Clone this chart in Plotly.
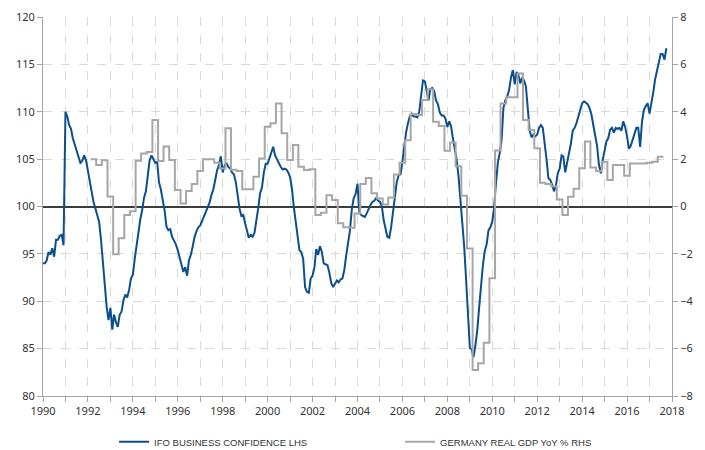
import pandas as pd
import plotly.graph_objects as go

# IFO business confidence, monthly, Jan 1990 - Oct 2017 (left axis)
ifo_1990s = [
    94.0, 94.0, 94.3, 95.2, 94.9, 95.6, 94.7, 96.5, 96.5, 96.9, 97.0, 95.9,   # 1990
    110.0, 109.5, 108.6, 108.2, 107.2, 106.6, 106.0, 105.2, 104.6, 104.8, 105.4, 104.9,  # 1991
    103.6, 102.7, 101.6, 100.5, 99.8, 99.3, 98.4, 96.5, 94.0, 92.2, 89.4, 88.0,  # 1992
    89.3, 87.0, 88.6, 87.8, 87.3, 88.6, 88.9, 90.1, 90.7, 90.4, 91.2, 92.4,   # 1993
    92.8, 94.5, 95.9, 97.2, 98.6, 99.6, 100.9, 101.6, 103.3, 104.9, 105.4, 105.0,  # 1994
    104.6, 104.7, 102.6, 101.8, 100.6, 99.6, 97.9, 97.5, 97.6, 96.8, 96.4, 96.0,  # 1995
    95.4, 94.5, 93.9, 93.1, 93.6, 92.7, 94.3, 94.9, 95.8, 96.8, 97.4, 97.8,   # 1996
    98.0, 98.5, 99.0, 99.5, 99.9, 100.4, 101.2, 101.8, 102.8, 103.8, 104.4, 105.3,  # 1997
    103.6, 104.3, 104.6, 104.2, 104.0, 103.6, 103.4, 102.6, 101.2, 99.8, 99.0, 99.1,  # 1998
    98.2, 97.3, 96.7, 97.0, 96.8, 97.2, 98.3, 99.8, 101.4, 102.0, 103.6, 104.5,  # 1999
]
ifo_2000s = [
    104.5, 105.1, 105.6, 106.3, 105.4, 105.0, 104.5, 104.2, 103.9, 104.0, 103.9, 103.6,  # 2000
    103.1, 101.8, 100.0, 98.4, 96.8, 95.4, 95.2, 94.5, 91.5, 91.0, 90.9, 92.4,  # 2001
    92.7, 93.6, 95.5, 94.9, 95.8, 95.2, 94.0, 93.9, 93.8, 93.0, 91.9, 91.5,   # 2002
    91.8, 92.2, 92.0, 92.3, 92.4, 93.3, 94.8, 96.3, 97.5, 99.7, 100.9, 101.3,  # 2003
    102.4, 99.4, 99.1, 99.0, 98.9, 99.3, 99.8, 100.2, 100.5, 100.6, 100.9, 100.6,  # 2004
    100.5, 100.0, 98.6, 97.5, 96.8, 96.7, 97.8, 99.4, 101.0, 102.6, 103.3, 103.4,  # 2005
    104.8, 106.5, 107.8, 108.8, 109.5, 109.8, 109.5, 109.5, 109.4, 110.0, 111.4, 113.3,  # 2006
    113.2, 111.9, 111.2, 112.4, 112.5, 112.2, 111.2, 110.8, 109.9, 109.6, 109.6, 109.3,  # 2007
    108.4, 109.0, 108.5, 107.2, 106.2, 104.9, 103.2, 100.6, 98.5, 95.8, 92.3, 88.0,  # 2008
    85.1, 84.9, 84.1, 85.3, 86.9, 89.3, 91.6, 93.8, 95.3, 96.0, 97.5, 97.8,   # 2009
]
ifo_2010s = [
    98.4, 100.0, 102.4, 104.6, 105.6, 107.0, 110.4, 111.2, 111.6, 112.3, 113.6, 114.4,  # 2010
    112.9, 114.2, 113.9, 113.0, 113.6, 113.3, 112.7, 110.0, 108.0, 107.3, 107.6, 107.4,  # 2011
    107.6, 108.3, 108.6, 108.3, 106.8, 105.0, 103.0, 102.8, 102.3, 101.6, 102.2, 103.5,  # 2012
    104.0, 105.4, 105.3, 103.6, 104.6, 105.6, 106.6, 108.0, 108.3, 108.8, 109.5, 110.0,  # 2013
    110.9, 111.1, 111.0, 110.8, 110.4, 109.7, 108.6, 107.6, 106.4, 104.4, 103.5, 104.9,  # 2014
    105.9, 106.9, 107.2, 108.1, 108.3, 107.8, 108.3, 108.2, 108.3, 108.0, 109.0, 108.4,  # 2015
    107.4, 106.1, 106.4, 107.0, 107.6, 108.3, 108.3, 106.3, 109.0, 110.2, 110.6, 110.9,  # 2016
    109.8, 110.8, 112.0, 113.4, 114.4, 115.5, 116.1, 116.1, 115.5, 116.7,              # 2017
]
ifo_values = ifo_1990s + ifo_2000s + ifo_2010s
ifo_start = "1990-01-01"

# Germany real GDP YoY %, quarterly, 1992Q1 - 2017Q2 (right axis)
gdp_years = list(range(1992, 2018))
gdp_quarterly = [
    [2.0, 1.75, 1.95, 0.42],     # 1992
    [-2.02, -1.34, -0.36, -0.2], # 1993
    [1.93, 2.24, 2.3, 3.65],     # 1994
    [1.92, 2.53, 1.96, 0.7],     # 1995
    [0.13, 0.65, 0.95, 1.5],     # 1996
    [2.0, 2.0, 1.85, 1.6],       # 1997
    [3.3, 1.55, 1.5, 0.73],      # 1998
    [0.73, 1.26, 2.03, 3.37],    # 1999
    [3.51, 4.35, 3.09, 1.96],    # 2000
    [2.6, 1.68, 1.54, 1.57],     # 2001
    [-0.36, -0.26, 0.48, 0.27],  # 2002
    [-0.71, -0.88, -0.9, -0.3],  # 2003
    [0.95, 1.2, 0.56, 0.34],     # 2004
    [0.08, 0.38, 1.35, 1.85],    # 2005
    [2.8, 3.9, 3.86, 4.5],       # 2006
    [4.95, 3.58, 3.4, 2.35],     # 2007
    [2.7, 1.7, 0.45, -1.77],     # 2008
    [-6.9, -6.62, -5.75, -3.03], # 2009
    [2.36, 4.35, 4.61, 4.61],    # 2010
    [5.62, 3.65, 3.23, 2.46],    # 2011
    [1.0, 0.95, 0.85, 0.3],      # 2012
    [-0.36, 0.41, 0.75, 1.61],   # 2013
    [2.74, 1.65, 1.5, 1.89],     # 2014
    [1.12, 1.75, 1.75, 1.3],     # 2015
    [1.82, 1.82, 1.82, 1.85],    # 2016
    [1.89, 2.1, 2.1],            # 2017
]
quarter_mid_month = [2, 5, 8, 11]

series_names = ["IFO BUSINESS CONFIDENCE LHS", "GERMANY REAL GDP YoY % RHS"]
x_tick_years = list(range(1990, 2019, 2))

# ---- build traces
ifo_dates = pd.date_range(ifo_start, periods=len(ifo_values), freq="MS")
gdp_dates, gdp_values = [], []
for yr, qs in zip(gdp_years, gdp_quarterly):
    for qi, v in enumerate(qs):
        gdp_dates.append(f"{yr}-{quarter_mid_month[qi]:02d}-15")
        gdp_values.append(v)

BLUE = "#0b4f8c"
GREY = "#a6a6a6"
GRID = "#d9d9d9"
AXIS = "#a6a6a6"
TXT = "#333333"
FONT = "Noto Sans, Open Sans, sans-serif"

fig = go.Figure()
fig.add_trace(go.Scatter(
    x=ifo_dates, y=ifo_values, name=series_names[0], mode="lines",
    line=dict(color=BLUE, width=2), yaxis="y"))
fig.add_trace(go.Scatter(
    x=gdp_dates, y=gdp_values, name=series_names[1], mode="lines",
    line=dict(color=GREY, width=2, shape="hv"), yaxis="y2"))

# page body has an 8px margin, so the figure is sized to fit the window
fig.update_layout(
    width=697, height=442,
    margin=dict(l=35, r=33, t=9, b=54, autoexpand=False),
    paper_bgcolor="white", plot_bgcolor="white",
    font=dict(family=FONT, size=11, color=TXT),
    showlegend=True,
    legend=dict(orientation="h", x=0.113, xanchor="left", y=-0.121, yanchor="middle",
                entrywidth=241,
                font=dict(family="Liberation Sans, Arial, sans-serif", size=9.5, color=TXT),
                bgcolor="rgba(0,0,0,0)"),
    xaxis=dict(
        type="date", range=["1990-01-01", "2018-01-01"],
        tickvals=[f"{y}-01-01" for y in x_tick_years],
        ticktext=[str(y) for y in x_tick_years],
        ticks="outside", ticklen=5, tickcolor=AXIS,
        showline=True, linecolor=AXIS, linewidth=1,
        showgrid=True, gridcolor=GRID, griddash="dash", gridwidth=1,
        minor=dict(dtick="M12", tick0="1990-01-01", ticks="outside", ticklen=5,
                   tickcolor=AXIS, showgrid=True, gridcolor=GRID, griddash="dash"),
        zeroline=False,
    ),
    yaxis=dict(
        range=[80, 120], dtick=5, tick0=80,
        ticks="outside", ticklen=5, tickcolor=AXIS,
        showline=True, linecolor=AXIS, linewidth=1,
        showgrid=True, gridcolor=GRID, griddash="dash", zeroline=False,
    ),
    yaxis2=dict(
        range=[-8, 8], dtick=2, tick0=-8, overlaying="y", side="right",
        ticks="outside", ticklen=5, tickcolor=AXIS,
        showline=True, linecolor=AXIS, linewidth=1,
        showgrid=False, zeroline=True, zerolinecolor="#3c3c3c", zerolinewidth=1.5,
    ),
)

fig.write_html("out.html")
